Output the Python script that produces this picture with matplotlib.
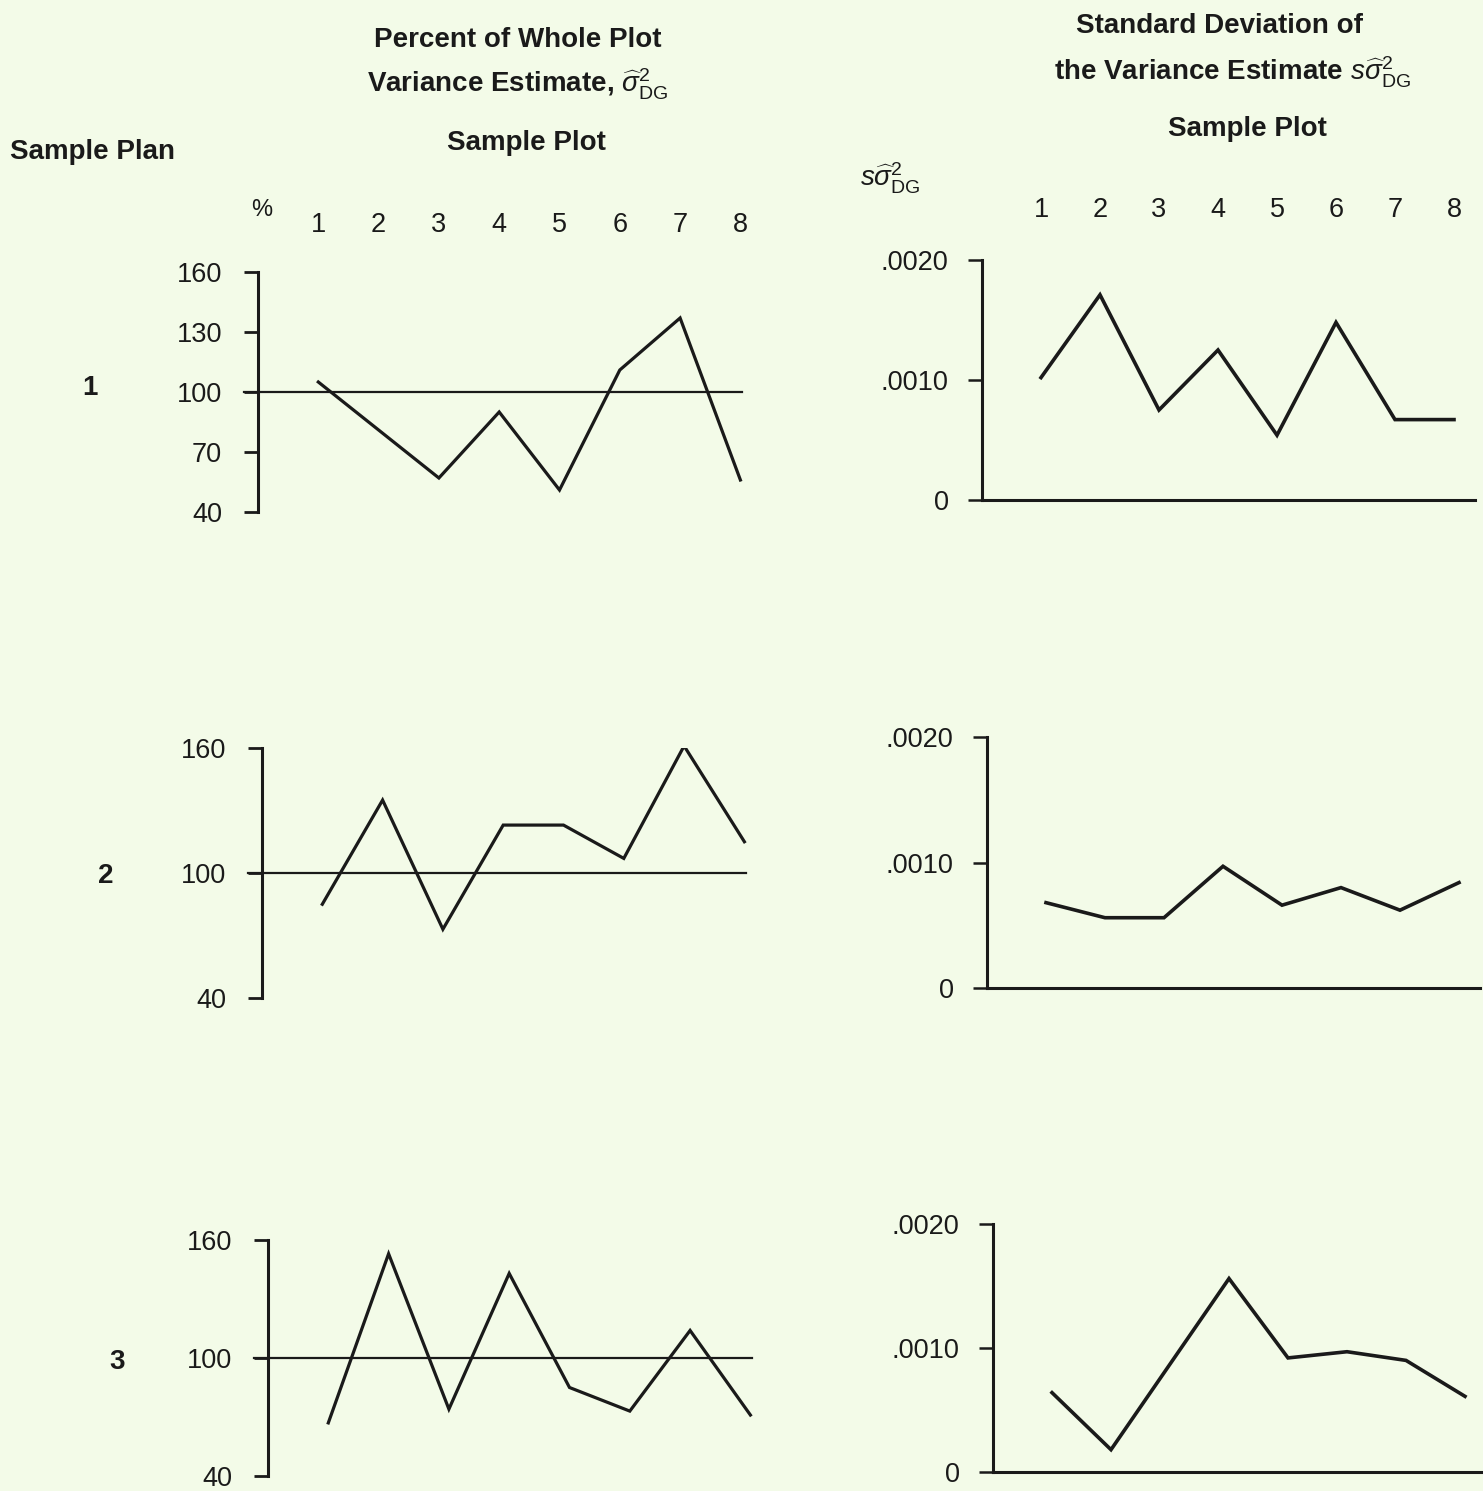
import matplotlib
matplotlib.use("Agg")
import matplotlib.pyplot as plt

# sample plots 1..8
plots = [1, 2, 3, 4, 5, 6, 7, 8]
plans = ["1", "2", "3"]

# percent of whole plot variance estimate, per sample plan
pct_plan1 = [105, 81, 57, 90, 51, 111, 137, 56]
pct_plan2 = [85, 135, 73, 123, 123, 107, 161, 115]
pct_plan3 = [67, 153, 74, 143, 85, 73, 114, 71]

# standard deviation of the variance estimate, per sample plan
sd_plan1 = [0.00102, 0.00171, 0.00075, 0.00125, 0.00054, 0.00148, 0.00067, 0.00067]
sd_plan2 = [0.00068, 0.00056, 0.00056, 0.00097, 0.00066, 0.00080, 0.00062, 0.00084]
sd_plan3 = [0.00064, 0.00018, 0.00087, 0.00156, 0.00092, 0.00097, 0.00090, 0.00061]

pct_ticks = [[160, 130, 100, 70, 40], [160, 100, 40], [160, 100, 40]]
sd_ticks = [0.0020, 0.0010, 0]
sd_ticklabels = [".0020", ".0010", "0"]

W, H = 1483, 1491
BG = "#F3FBE8"
INK = "#1a1a1a"
TS = 19.5  # tick label size

plt.rcParams["font.family"] = ["Liberation Sans", "DejaVu Sans"]
plt.rcParams["mathtext.fontset"] = "custom"
plt.rcParams["mathtext.rm"] = "Liberation Sans"
plt.rcParams["mathtext.it"] = "Liberation Sans:italic"

fig = plt.figure(figsize=(W / 100, H / 100), dpi=100, facecolor=BG)


def box(left, top, right, bottom):
    # pixel box -> figure fraction
    return [left / W, 1 - bottom / H, (right - left) / W, (bottom - top) / H]


def ftext(x, y, s, **kw):
    kw.setdefault("fontsize", 20)
    kw.setdefault("color", INK)
    fig.text(x / W, 1 - y / H, s, **kw)


# (left, top, right, bottom) of each panel in pixels, spine at left edge
left_boxes = [(258, 272, 760, 512), (262, 748, 764, 998), (268, 1240, 770, 1476)]
right_boxes = [(982, 260, 1475, 500), (987, 737, 1480, 988), (993, 1224, 1483, 1472)]
pct_data = [pct_plan1, pct_plan2, pct_plan3]
sd_data = [sd_plan1, sd_plan2, sd_plan3]

for i in range(3):
    # left: percent panels
    ax = fig.add_axes(box(*left_boxes[i]))
    ax.set_facecolor("none")
    ax.plot(plots, pct_data[i], color=INK, lw=2.3, solid_joinstyle="miter")
    ax.axhline(100, xmin=-0.028, xmax=0.965, color=INK, lw=1.6, clip_on=False)
    ax.set_ylim(40, 160)
    ax.set_xlim(0, (left_boxes[i][2] - left_boxes[i][0]) / 60.3)
    for s in ["top", "right", "bottom"]:
        ax.spines[s].set_visible(False)
    ax.spines["left"].set_linewidth(2.2)
    ax.spines["left"].set_color(INK)
    ax.set_yticks(pct_ticks[i])
    ax.set_yticklabels([str(t) for t in pct_ticks[i]])
    ax.tick_params(axis="y", length=10, width=2, pad=16, labelsize=TS, colors=INK)
    if i == 0:
        ax.set_xticks(plots)
        ax.tick_params(axis="x", bottom=False, top=False, labelbottom=False,
                       labeltop=True, pad=21, labelsize=TS, colors=INK)
    else:
        ax.set_xticks([])

    # right: standard deviation panels
    ax = fig.add_axes(box(*right_boxes[i]))
    ax.set_facecolor("none")
    ax.plot(plots, sd_data[i], color=INK, lw=2.6, solid_joinstyle="miter")
    ax.set_ylim(0, 0.002)
    ax.set_xlim(0, (right_boxes[i][2] - right_boxes[i][0]) / 59)
    for s in ["top", "right"]:
        ax.spines[s].set_visible(False)
    for s in ["left", "bottom"]:
        ax.spines[s].set_linewidth(2.2)
        ax.spines[s].set_color(INK)
    ax.set_yticks(sd_ticks)
    ax.set_yticklabels(sd_ticklabels)
    ax.tick_params(axis="y", length=10, width=1.8, pad=14, labelsize=TS, colors=INK)
    if i == 0:
        ax.set_xticks(plots)
        ax.tick_params(axis="x", bottom=False, top=False, labelbottom=False,
                       labeltop=True, pad=23, labelsize=TS, colors=INK)
    else:
        ax.set_xticks([])

# headings
ftext(518, 40, "Percent of Whole Plot", ha="center", va="center", fontweight="bold")
ftext(518, 84, r"Variance Estimate, $\widehat{\sigma}^{2}_{\rm DG}$", ha="center", va="center",
      fontweight="bold")
ftext(526, 143, "Sample Plot", ha="center", va="center", fontweight="bold")
ftext(92, 152, "Sample Plan", ha="center", va="center", fontweight="bold")
ftext(262, 210, "%", ha="center", va="center", fontsize=17)

ftext(1220, 26, "Standard Deviation of", ha="center", va="center", fontweight="bold")
ftext(1232, 72, r"the Variance Estimate $s\widehat{\sigma}^{2}_{\rm DG}$", ha="center",
      va="center", fontweight="bold")
ftext(1247, 129, "Sample Plot", ha="center", va="center", fontweight="bold")
ftext(890, 178, r"$s\widehat{\sigma}^{2}_{\rm DG}$", ha="center", va="center")

# sample plan row labels
for lab, (x, y) in zip(plans, [(90, 388), (106, 876), (117, 1362)]):
    ftext(x, y, lab, ha="center", va="center", fontweight="bold")

fig.savefig("out.png", dpi=100, facecolor=BG)
